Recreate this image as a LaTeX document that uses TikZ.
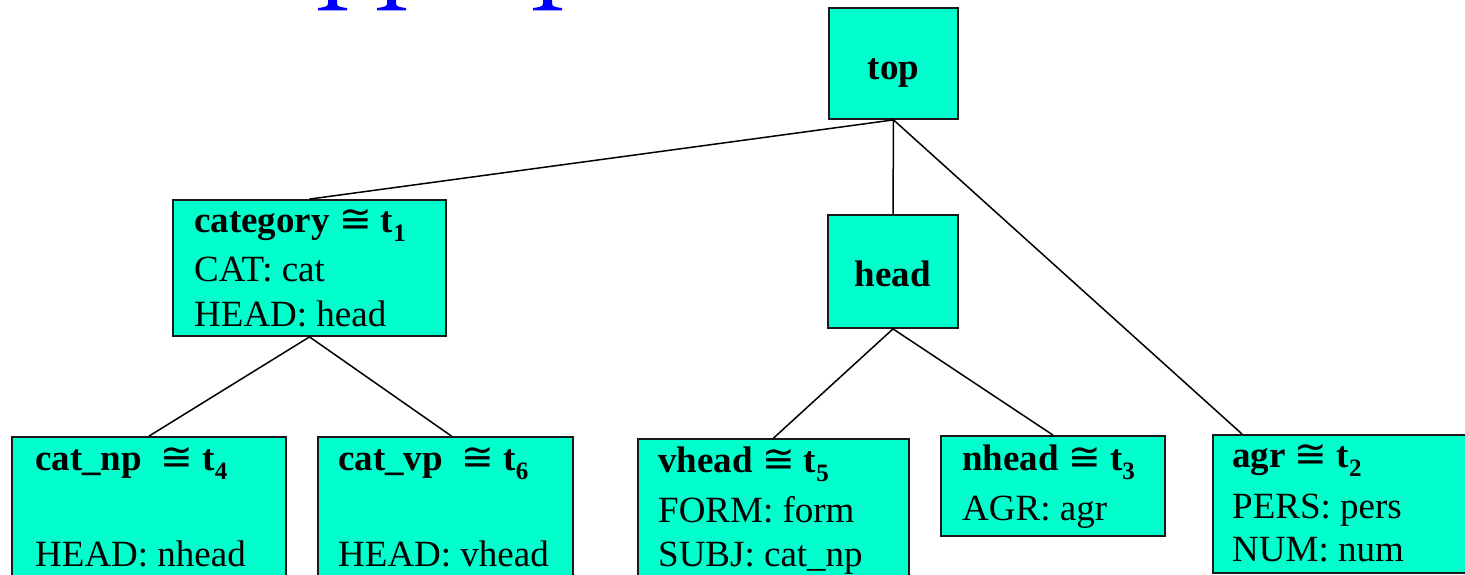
\documentclass[tikz,border=0pt]{standalone}
\usepackage{fontspec}
\setmainfont{Liberation Serif}
\newfontfamily\symf{DejaVu Sans}
\usetikzlibrary{calc}
\definecolor{boxfill}{RGB}{0,255,204}
\definecolor{titleblue}{RGB}{0,0,255}
\newcommand{\cg}{{\symf\mdseries\fontsize{39}{45}\selectfont ≅}}
\newcommand{\ts}[1]{\textbf{t}\raisebox{-0.25em}{\fontsize{25}{25}\selectfont\bfseries #1}}
\begin{document}
\begin{tikzpicture}[x=1pt,y=-1pt,
  box/.style={draw=black!90, line width=1.8pt, fill=boxfill, inner sep=0pt, rectangle},
  lbl/.style={anchor=base west, inner sep=0pt, font=\fontsize{37}{45}\selectfont},
  ctr/.style={anchor=base, inner sep=0pt, font=\fontsize{37}{45}\selectfont\bfseries},
  conn/.style={draw=black, line width=1.5pt}]
\useasboundingbox (0,0) rectangle (1465,575);
\clip (0,0) rectangle (1465,575);
% cut-off title fragments
\foreach \a in {318,377,533}{
  \fill[titleblue] (\a+10,-1) -- (\a+10,4) .. controls (\a+10,7) and (\a+4,7.5) .. (\a,8) -- (\a,10.5) -- (\a+29,10.5) -- (\a+29,8) .. controls (\a+25,7.5) and (\a+19,7) .. (\a+19,4) -- (\a+19,-1) -- cycle;
}
% boxes
\node[box, minimum width=129pt, minimum height=111pt] (top) at (893.5,63.5) {};
\node[box, minimum width=273pt, minimum height=136pt] (category) at (309.5,268) {};
\node[box, minimum width=130pt, minimum height=113pt] (head) at (893,271.5) {};
\node[box, minimum width=274pt, minimum height=163pt] (catnp) at (149,518.5) {};
\node[box, minimum width=255pt, minimum height=163pt] (catvp) at (445.5,518.5) {};
\node[box, minimum width=271pt, minimum height=161pt] (vhead) at (773.5,519.5) {};
\node[box, minimum width=224pt, minimum height=100pt] (nhead) at (1053,486) {};
\node[box, minimum width=267pt, minimum height=138pt] (agr) at (1346.5,504) {};
% connectors
\coordinate (agrin) at ($(agr.north west)+(30,0)$);
\coordinate (catvpin) at ($(catvp.north)+(6,0)$);
\draw[conn] (top.south) -- (category.north);
\draw[conn] (top.south) -- (head.north);
\draw[conn] (top.south) -- (agrin);
\draw[conn] (category.south) -- (catnp.north);
\draw[conn] (category.south) -- (catvpin);
\draw[conn] (head.south) -- (vhead.north);
\draw[conn] (head.south) -- (nhead.north);
% labels
\node[ctr] (toplbl) at (893.5,80) {top};
\node[ctr] (headlbl) at (893,286) {head};
\node[lbl] (c1) at (194,232) {\textbf{category} \cg\ \ts{1}};
\node[lbl] (c2) at (194,281) {CAT: cat};
\node[lbl] (c3) at (194,326) {HEAD: head};
\node[lbl] (np1) at (35,470) {\textbf{cat\_np}\ \ \cg\ \ts{4}};
\node[lbl] (np2) at (35,566) {HEAD: nhead};
\node[lbl] (vp1) at (338,470) {\textbf{cat\_vp}\ \ \cg\ \ts{6}};
\node[lbl] (vp2) at (338,566) {HEAD: vhead};
\node[lbl] (vh1) at (658,472) {\textbf{vhead} \cg\ \ts{5}};
\node[lbl] (vh2) at (658,522) {FORM: form};
\node[lbl] (vh3) at (658,566) {SUBJ: cat\_np};
\node[lbl] (nh1) at (962,470) {\textbf{nhead} \cg\ \ts{3}};
\node[lbl] (nh2) at (962,520) {AGR: agr};
\node[lbl] (ag1) at (1232,467) {\textbf{agr} \cg\ \ts{2}};
\node[lbl] (ag2) at (1232,518) {PERS: pers};
\node[lbl] (ag3) at (1232,561) {NUM: num};
\end{tikzpicture}
\end{document}
